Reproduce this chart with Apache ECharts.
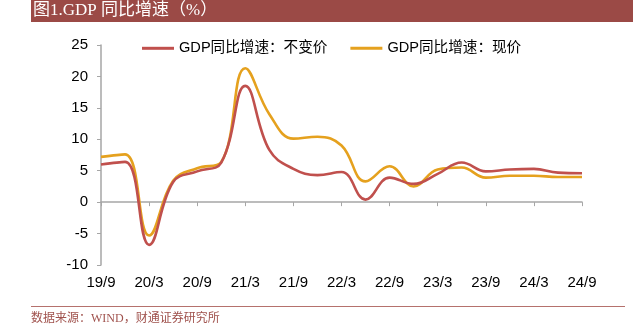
<!DOCTYPE html>
<html>
<head>
<meta charset="utf-8">
<script src="https://cdn.jsdelivr.net/npm/echarts@6/dist/echarts.min.js"></script>
<style>
html,body{margin:0;padding:0;background:#fff;}
#chart{width:633px;height:328px;}
</style>
</head>
<body>
<div id="chart"></div>
<script>
var categories = ['19/9','19/12','20/3','20/6','20/9','20/12','21/3','21/6','21/9','21/12','22/3','22/6','22/9','22/12','23/3','23/6','23/9','23/12','24/3','24/6','24/9'];
var realGDP = [6.0, 6.4, -6.8, 3.2, 4.9, 6.3, 18.5, 8.3, 5.3, 4.3, 4.8, 0.4, 3.9, 2.9, 4.5, 6.3, 4.9, 5.2, 5.3, 4.7, 4.6];
var nominalGDP = [7.2, 7.6, -5.3, 3.4, 5.4, 6.4, 21.3, 14.0, 10.1, 10.4, 9.0, 3.3, 5.7, 2.5, 5.2, 5.5, 3.9, 4.2, 4.2, 4.0, 4.0];
var seriesNames = ['GDP同比增速：不变价', 'GDP同比增速：现价'];
var yTicks = {min: -10, max: 25, interval: 5};
var titleText = '图1.GDP 同比增速（%）';
var sourceText = '数据来源：WIND，财通证券研究所';

var chart = echarts.init(document.getElementById('chart'), null, {renderer: 'canvas'});
var sansFont = "'Liberation Sans', Arial, 'Noto Sans CJK SC', sans-serif";
var serifFont = "'Liberation Serif', 'Noto Sans CJK SC', serif";
var option = {
  animation: false,
  backgroundColor: '#ffffff',
  graphic: [
    {type: 'rect', shape: {x: 31, y: 0, width: 602, height: 22}, style: {fill: '#9B4A46'}, z: 0},
    {type: 'text', x: 33, y: 11, style: {text: titleText, fill: '#ffffff', font: '17px ' + serifFont, textVerticalAlign: 'middle'}, z: 1},
    {type: 'line', shape: {x1: 31, y1: 306.5, x2: 625, y2: 306.5}, style: {stroke: '#B5716D', lineWidth: 1}},
    {type: 'text', x: 31, y: 319, style: {text: sourceText, fill: '#A0524D', font: '12px ' + serifFont, textVerticalAlign: 'middle'}}
  ],
  legend: {
    top: 41, left: 142, padding: 0, itemGap: 23,
    itemWidth: 32, itemHeight: 3, icon: 'rect',
    textStyle: {fontSize: 14.6, color: '#000', fontFamily: sansFont},
    data: seriesNames
  },
  grid: {left: 101, right: 51, top: 45, bottom: 63, containLabel: false},
  xAxis: [
    {
      type: 'category', data: categories, boundaryGap: false, position: 'bottom',
      axisLine: {show: false, onZero: false}, axisTick: {show: false},
      axisLabel: {interval: 1, margin: 10, fontSize: 15, color: '#000', fontFamily: sansFont},
      splitLine: {show: false}
    },
    {
      type: 'category', data: categories, boundaryGap: false, position: 'top',
      axisLine: {show: true, onZero: true, onZeroAxisIndex: 0, lineStyle: {color: '#A6A6A6', width: 1.5}},
      axisTick: {show: true, inside: true, interval: 1, length: 4, lineStyle: {color: '#A6A6A6', width: 1}},
      axisLabel: {show: false}, splitLine: {show: false}
    }
  ],
  yAxis: {
    type: 'value', min: yTicks.min, max: yTicks.max, interval: yTicks.interval,
    axisLine: {show: true, onZero: false, lineStyle: {color: '#A6A6A6', width: 1.5}},
    axisTick: {show: true, length: 4, lineStyle: {color: '#A6A6A6'}},
    axisLabel: {margin: 13, fontSize: 15, color: '#000', fontFamily: sansFont},
    splitLine: {show: false}
  },
  series: [
    {name: seriesNames[0], type: 'line', data: realGDP, smooth: 0.42, showSymbol: false, xAxisIndex: 0,
     lineStyle: {color: '#C0504D', width: 2.6}, itemStyle: {color: '#C0504D'}, z: 3},
    {name: seriesNames[1], type: 'line', data: nominalGDP, smooth: 0.42, showSymbol: false, xAxisIndex: 0,
     lineStyle: {color: '#E5A11E', width: 2.6}, itemStyle: {color: '#E5A11E'}, z: 2}
  ]
};
chart.setOption(option);
</script>
</body>
</html>
